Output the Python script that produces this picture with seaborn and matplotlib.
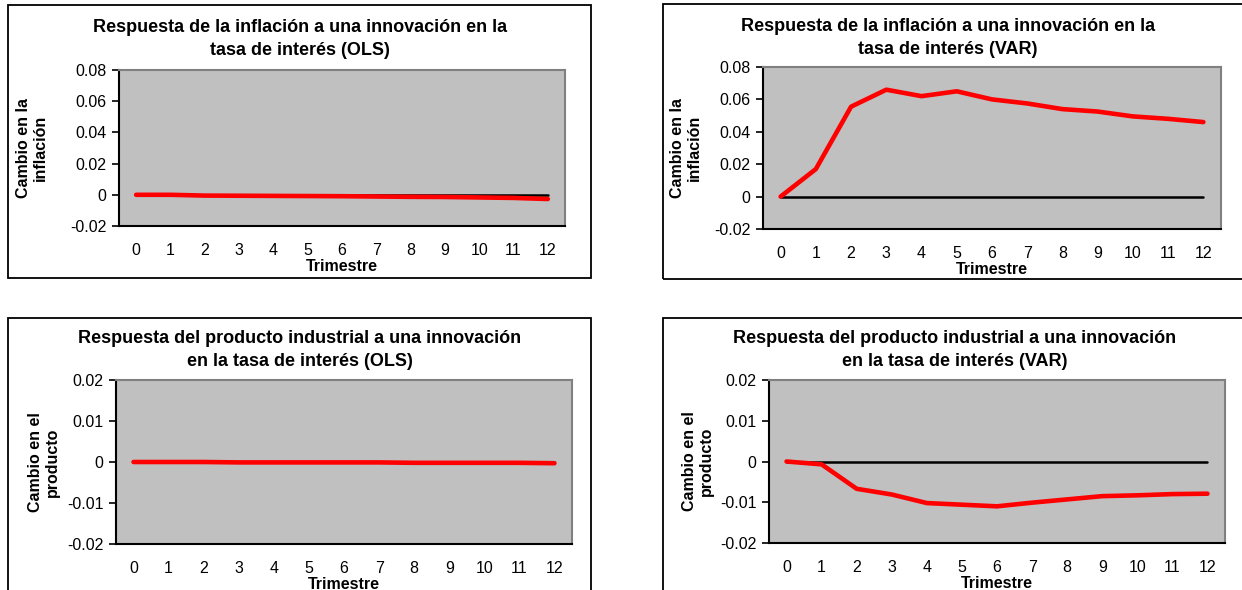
import matplotlib
matplotlib.use("Agg")
import matplotlib.pyplot as plt
import matplotlib.patches as patches
import numpy as np
import pandas as pd
import seaborn as sns

sns.set_style("white")
plt.rcParams["font.family"] = ["Liberation Sans", "DejaVu Sans"]
plt.rcParams["text.color"] = "black"
plt.rcParams["xtick.color"] = "black"
plt.rcParams["ytick.color"] = "black"
plt.rcParams["axes.labelcolor"] = "black"

W, H = 1242, 590

# Quarters after the interest-rate shock
trimestres = list(range(13))

# Inflation response (OLS)
infl_ols = [0.0, 0.0, -0.0005, -0.0006, -0.0007, -0.0008, -0.0009,
            -0.0011, -0.0013, -0.0014, -0.0017, -0.0020, -0.0027]
# Inflation response (VAR)
infl_var = [0.0, 0.017, 0.0555, 0.066, 0.062, 0.065, 0.060,
            0.0575, 0.054, 0.0525, 0.0495, 0.048, 0.046]
# Industrial output response (OLS)
prod_ols = [0.0, 0.0, 0.0, -0.0001, -0.0001, -0.0001, -0.0001,
            -0.0001, -0.0002, -0.0002, -0.0002, -0.0002, -0.0003]
# Industrial output response (VAR)
prod_var = [0.0, -0.0007, -0.0067, -0.0081, -0.0102, -0.0106, -0.0110,
            -0.0101, -0.0093, -0.0085, -0.0083, -0.0080, -0.0079]

titles = [
    "Respuesta de la inflación a una innovación en la\ntasa de interés (OLS)",
    "Respuesta de la inflación a una innovación en la\ntasa de interés (VAR)",
    "Respuesta del producto industrial a una innovación\nen la tasa de interés (OLS)",
    "Respuesta del producto industrial a una innovación\nen la tasa de interés (VAR)",
]
ylabels = [
    "Cambio en la\ninflación",
    "Cambio en la\ninflación",
    "Cambio en el\nproducto",
    "Cambio en el\nproducto",
]
infl_ticks = [-0.02, 0, 0.02, 0.04, 0.06, 0.08]
infl_ticklabels = ["-0.02", "0", "0.02", "0.04", "0.06", "0.08"]
prod_ticks = [-0.02, -0.01, 0, 0.01, 0.02]
prod_ticklabels = ["-0.02", "-0.01", "0", "0.01", "0.02"]
xlabel = "Trimestre"

series = [infl_ols, infl_var, prod_ols, prod_var]
yticks = [infl_ticks, infl_ticks, prod_ticks, prod_ticks]
yticklabels = [infl_ticklabels, infl_ticklabels, prod_ticklabels, prod_ticklabels]

# pixel layout: frame box, plot area, title centre x / top y, y-label centre x
frames = [(8, 5, 591, 278), (663, 4, 1260, 279), (8, 318, 591, 610), (663, 318, 1260, 610)]
plots = [(119, 70, 565, 226), (763, 67, 1221, 229), (116, 380, 572, 544), (769, 380, 1225, 543)]
title_x = [300, 948, 300, 955]
title_y = [19, 18, 330, 330]
ylab_x = [32, 686, 44, 698]

fig = plt.figure(figsize=(W / 100, H / 100), dpi=100)
fig.patch.set_facecolor("white")


def fx(x):
    return x / W


def fy(y):
    return 1 - y / H


for i in range(4):
    fl, ft, fr, fb = frames[i]
    fig.add_artist(patches.Rectangle((fx(fl), fy(fb)), fx(fr - fl), (fb - ft) / H,
                                     transform=fig.transFigure, fill=False,
                                     edgecolor="black", linewidth=1.3, zorder=0))

    l, t, r, b = plots[i]
    ax = fig.add_axes([fx(l), fy(b), fx(r - l), (b - t) / H])
    ax.set_facecolor("#c0c0c0")

    df = pd.DataFrame({"trimestre": trimestres, "valor": series[i]})
    zero = pd.DataFrame({"trimestre": trimestres, "valor": [0.0] * len(trimestres)})
    sns.lineplot(data=zero, x="trimestre", y="valor", ax=ax, color="black",
                 linewidth=1.8, zorder=2)
    sns.lineplot(data=df, x="trimestre", y="valor", ax=ax, color="#ff0000",
                 linewidth=3.3, zorder=3)

    ax.set_xlim(-0.5, 12.5)
    ax.set_ylim(yticks[i][0], yticks[i][-1])
    ax.set_xticks(trimestres)
    ax.set_xticklabels([str(t) for t in trimestres], fontsize=11.5)
    ax.set_yticks(yticks[i])
    ax.set_yticklabels(yticklabels[i], fontsize=11.5)
    ax.tick_params(axis="x", length=0, pad=12, labelcolor="black")
    ax.tick_params(axis="y", length=5, width=1.2, color="black", direction="out",
                   pad=4, left=True, labelcolor="black")
    ax.set_xlabel("")
    ax.set_ylabel("")

    for side in ["top", "right"]:
        ax.spines[side].set_color("#808080")
        ax.spines[side].set_linewidth(1.5)
    for side in ["left", "bottom"]:
        ax.spines[side].set_color("black")
        ax.spines[side].set_linewidth(1.5)

    fig.text(fx(title_x[i]), fy(title_y[i]), titles[i], ha="center", va="top",
             fontsize=13, fontweight="bold", linespacing=1.45, color="black")
    fig.text(fx((l + r) / 2), fy(b + 33), xlabel, ha="center", va="top",
             fontsize=11.5, fontweight="bold", color="black")
    fig.text(fx(ylab_x[i]), fy((t + b) / 2), ylabels[i], ha="center", va="center",
             rotation=90, fontsize=11.5, fontweight="bold", linespacing=1.1,
             color="black")

fig.savefig("out.png", dpi=100)
